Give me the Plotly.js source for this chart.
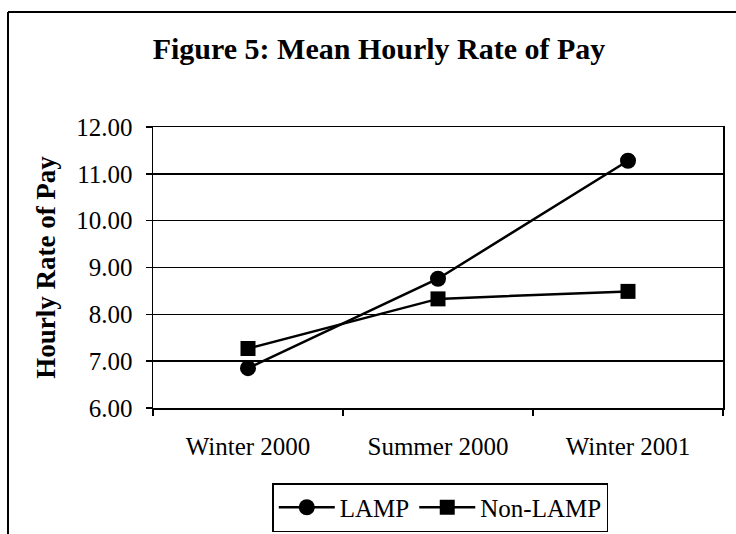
<!DOCTYPE html>
<html>
<head>
<meta charset="utf-8">
<script src="https://cdn.plot.ly/plotly-3.0.1.min.js"></script>
<style>
html,body{margin:0;padding:0;background:#fff;}
#chart{width:736px;height:534px;}
</style>
</head>
<body>
<div id="chart"></div>
<script>
var categories = ["Winter 2000", "Summer 2000", "Winter 2001"];
var lampValues = [6.85, 8.76, 11.28];
var nonLampValues = [7.27, 8.33, 8.49];
var seriesNames = ["LAMP", "Non-LAMP"];
var chartTitle = "Figure 5: Mean Hourly Rate of Pay";
var yAxisTitle = "Hourly Rate of Pay";

var serif = "Liberation Serif, Times New Roman, serif";

var traces = [
  {
    x: categories, y: lampValues, name: seriesNames[0], type: "scatter", mode: "lines+markers",
    line: {color: "#000", width: 2.5},
    marker: {symbol: "circle", size: 16, color: "#000"}
  },
  {
    x: categories, y: nonLampValues, name: seriesNames[1], type: "scatter", mode: "lines+markers",
    line: {color: "#000", width: 2.5},
    marker: {symbol: "square", size: 15, color: "#000"}
  }
];

var layout = {
  width: 736, height: 534,
  paper_bgcolor: "#fff", plot_bgcolor: "#fff",
  margin: {l: 153, r: 13, t: 127, b: 126, pad: 0, autoexpand: false},
  font: {family: serif, color: "#000", size: 25},
  title: {
    text: "<b>" + chartTitle + "</b>",
    font: {family: serif, size: 30, color: "#000"},
    x: 379 / 736, xref: "container", xanchor: "center",
    y: 1 - 48 / 534, yref: "container", yanchor: "middle"
  },
  showlegend: true,
  legend: {
    orientation: "h",
    x: 0.504, xanchor: "center",
    y: 1 - 483 / 534, yref: "container", yanchor: "top",
    bordercolor: "#000", borderwidth: 1.5,
    bgcolor: "#fff",
    font: {family: serif, size: 25, color: "#000"},
    itemwidth: 56
  },
  xaxis: {
    type: "category",
    range: [-0.5, 2.5],
    showgrid: false,
    showline: true, mirror: true, linecolor: "#000", linewidth: 1.5,
    ticks: "outside", tickson: "boundaries", ticklen: 6, tickwidth: 1.5, tickcolor: "#000",
    tickfont: {family: serif, size: 25, color: "#000"},
    ticklabelstandoff: 15,
    zeroline: false,
    automargin: false,
    fixedrange: true
  },
  yaxis: {
    range: [6, 12],
    dtick: 1,
    tick0: 6,
    tickformat: ".2f",
    showgrid: true, gridcolor: "#000", gridwidth: 1.5,
    showline: true, mirror: true, linecolor: "#000", linewidth: 1.5,
    ticks: "outside", ticklen: 6, tickwidth: 1.5, tickcolor: "#000",
    tickfont: {family: serif, size: 25, color: "#000"},
    ticklabelstandoff: 8,
    zeroline: false,
    automargin: false,
    title: {
      text: "<b>" + yAxisTitle + "</b>",
      font: {family: serif, size: 27, color: "#000"},
      standoff: 13
    },
    fixedrange: true
  },
  shapes: [
    {type: "line", xref: "paper", yref: "paper",
     x0: (8 - 153) / 570, x1: (736 - 153) / 570, y0: (408 - 12) / 281, y1: (408 - 12) / 281,
     line: {color: "#000", width: 2}},
    {type: "line", xref: "paper", yref: "paper",
     x0: (8 - 153) / 570, x1: (8 - 153) / 570, y0: (408 - 12) / 281, y1: (408 - 534) / 281,
     line: {color: "#000", width: 2}}
  ]
};

Plotly.newPlot("chart", traces, layout, {displayModeBar: false, staticPlot: true});
</script>
</body>
</html>
